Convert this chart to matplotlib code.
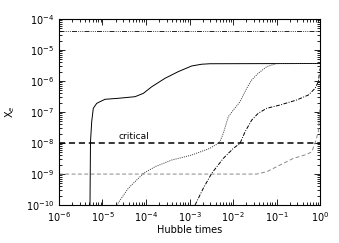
import matplotlib
matplotlib.use("Agg")
import matplotlib.pyplot as plt
from matplotlib.ticker import LogLocator, NullFormatter

# Data
solid_x = [5.16e-6, 5.3e-6, 5.65e-6, 6.15e-6, 7.36e-6, 8.77e-6, 1.14e-5, 2.3e-5, 5.6e-5,
           8.7e-5, 1.35e-4, 2.73e-4, 5.5e-4, 1.12e-3, 1.9e-3, 2.95e-3, 1.0]
solid_y = [1e-10, 1.1e-8, 4.9e-8, 1.32e-7, 1.9e-7, 2.15e-7, 2.57e-7, 2.77e-7, 3.12e-7,
           4.0e-7, 6.5e-7, 1.22e-6, 2.0e-6, 3.05e-6, 3.47e-6, 3.6e-6, 3.67e-6]

dotted_x = [2.12e-5, 3.9e-5, 8.7e-5, 1.61e-4, 3.9e-4, 1.12e-3, 2.27e-3, 2.95e-3, 4.2e-3,
            5.0e-3, 5.98e-3, 7.8e-3, 1.02e-2, 1.45e-2, 2.06e-2, 2.69e-2, 3.8e-2, 5.96e-2,
            0.101, 1.0]
dotted_y = [1e-10, 3.46e-10, 1.05e-9, 1.72e-9, 2.83e-9, 4.1e-9, 5.9e-9, 6.8e-9, 9.1e-9,
            1.1e-8, 2.06e-8, 7.05e-8, 1.16e-7, 2.15e-7, 5.8e-7, 1.08e-6, 1.77e-6, 2.9e-6,
            3.67e-6, 3.67e-6]

dashdot_x = [1.34e-3, 2.07e-3, 3.23e-3, 5.98e-3, 1.02e-2, 1.45e-2, 1.89e-2, 2.69e-2,
             3.8e-2, 5.96e-2, 0.12, 0.29, 0.54, 0.77, 0.914, 1.0]
dashdot_y = [1e-10, 3.46e-10, 1.05e-9, 3.2e-9, 6.75e-9, 9.8e-9, 2.3e-8, 5.5e-8,
             9.1e-8, 1.32e-7, 1.68e-7, 2.44e-7, 3.53e-7, 5.8e-7, 9.5e-7, 2.5e-6]

gray_x = [1e-6, 3.5e-2, 5.96e-2, 0.12, 0.243, 0.494, 0.644, 0.767, 0.914, 1.0]
gray_y = [1e-9, 1e-9, 1.19e-9, 1.95e-9, 3.2e-9, 4.3e-9, 5.2e-9, 9.8e-9, 2.3e-8, 1.5e-7]

top_level = 4.1e-5
critical_level = 1e-8
x_range = [1e-6, 1.0]
y_range = [1e-10, 1e-4]

fig = plt.figure(figsize=(3.39, 2.43), dpi=100)
ax = fig.add_axes([0.174, 0.156, 0.770, 0.766])

ax.plot(x_range, [top_level, top_level], color='black', lw=0.6, dashes=[6, 1.5, 1, 1.5, 1, 1.5, 1, 1.5])
ax.plot(x_range, [critical_level, critical_level], color='black', lw=1.1, dashes=[4, 2.5])
ax.plot(gray_x, gray_y, color='#888888', lw=0.7, dashes=[4, 2.5])
ax.plot(solid_x, solid_y, color='black', lw=0.7)
ax.plot(dotted_x, dotted_y, color='#333333', lw=0.7, dashes=[1, 1.2])
ax.plot(dashdot_x, dashdot_y, color='black', lw=0.7, dashes=[4, 1.5, 1, 1.5])

ax.set_xscale('log')
ax.set_yscale('log')
ax.set_xlim(*x_range)
ax.set_ylim(*y_range)

ax.text(2.3e-5, 1.35e-8, 'critical', fontsize=6.5, color='black')

for s in ax.spines.values():
    s.set_linewidth(0.8)

ax.xaxis.set_major_locator(LogLocator(base=10, numticks=10))
ax.yaxis.set_major_locator(LogLocator(base=10, numticks=10))
ax.xaxis.set_minor_locator(LogLocator(base=10, subs=range(2, 10), numticks=20))
ax.yaxis.set_minor_locator(LogLocator(base=10, subs=range(2, 10), numticks=20))
ax.xaxis.set_minor_formatter(NullFormatter())
ax.yaxis.set_minor_formatter(NullFormatter())
ax.tick_params(which='both', direction='in', top=True, right=True, labelsize=7, width=0.6)
ax.tick_params(which='major', length=4)
ax.tick_params(which='minor', length=2)

ax.set_xlabel('Hubble times', fontsize=7, labelpad=1)
ax.set_ylabel('X$_e$', fontsize=7, labelpad=6)

fig.savefig('out.png', dpi=100)
